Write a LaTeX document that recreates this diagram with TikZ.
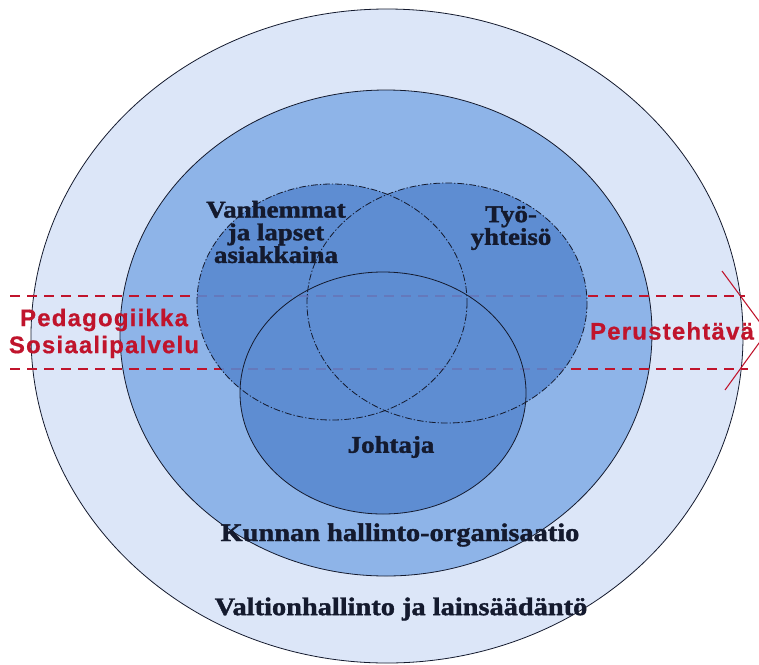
\documentclass[tikz,border=0pt]{standalone}
\usepackage{fontspec}
\setmainfont{Liberation Serif}
\newfontfamily\ringfont{Liberation Serif}[FakeStretch=1.12,BoldFeatures={FakeBold=1.5}]
\newfontfamily\bandfont{Liberation Sans}[LetterSpace=5,BoldFeatures={FakeBold=0.6}]
\usepackage{xcolor}
\usepackage{tikz}
\usetikzlibrary{positioning}
\definecolor{outerblue}{RGB}{220,230,248}
\definecolor{innerblue}{RGB}{142,180,232}
\definecolor{circblue}{RGB}{88,136,208}
\definecolor{bandred}{RGB}{192,20,44}
\definecolor{inkblue}{RGB}{20,26,46}

\begin{document}
\begin{tikzpicture}[x=0.75pt,y=-0.75pt,
  ring/.style={draw=inkblue,line width=0.6pt},
  circline/.style={draw=inkblue,line width=0.6pt,dash pattern=on 5pt off 1.5pt on 1pt off 1.5pt},
  lbl/.style={font=\ringfont\bfseries\fontsize{18}{17}\selectfont,align=center,text=inkblue},
  ringlbl/.style={lbl,font=\ringfont\bfseries\fontsize{19}{19}\selectfont},
  bandlbl/.style={font=\bandfont\bfseries\fontsize{18}{20}\selectfont,text=bandred,inner sep=0pt},
  band/.style={draw=bandred,line width=1.5pt,dash pattern=on 7.5pt off 5.25pt}]
  \useasboundingbox (0,0) rectangle (759,664);
  \fill[white] (0,0) rectangle (759,664);
  % rings
  \coordinate (stateC) at (387,336);
  \coordinate (municC) at (386,333);
  \path[ring,fill=outerblue] (stateC) ellipse [x radius=356,y radius=327];
  \path[ring,fill=innerblue] (municC) ellipse [x radius=266,y radius=243];
  % band with open head
  \coordinate (bandNW) at (10,296);
  \coordinate (bandNE) at (745,296);
  \coordinate (bandSW) at (10,369);
  \coordinate (bandSE) at (748,369);
  \coordinate (headN) at (722,271);
  \coordinate (tip) at (767,332);
  \coordinate (headS) at (725,390);
  \draw[band] (bandNW) -- (bandNE);
  \draw[band] (bandSW) -- (bandSE);
  \draw[bandred,line width=0.8pt] (headN) -- (tip) -- (headS);
  % three circles
  \coordinate (parentsC) at (332,302);
  \coordinate (staffC) at (447,303);
  \coordinate (leaderC) at (383,393);
  \begin{scope}[transparency group,opacity=0.88]
    \fill[circblue] (parentsC) ellipse [x radius=135,y radius=118];
    \fill[circblue] (staffC) ellipse [x radius=140,y radius=120];
    \fill[circblue] (leaderC) ellipse [x radius=143,y radius=121];
  \end{scope}
  \draw[circline] (parentsC) ellipse [x radius=135,y radius=118];
  \draw[circline] (staffC) ellipse [x radius=140,y radius=120];
  \draw[ring] (leaderC) ellipse [x radius=143,y radius=121];
  % labels
  \node[lbl] (parentsLbl) at (276,232) {Vanhemmat\\ja lapset\\asiakkaina};
  \node[lbl] (staffLbl) at (511,228) {Työ-\\yhteisö};
  \node[lbl] (leaderLbl) at (391,447) {Johtaja};
  \node[ringlbl] (municLbl) at (400,535) {Kunnan hallinto-organisaatio};
  \node[ringlbl] (stateLbl) at (401,609) {Valtionhallinto ja lainsäädäntö};
  \node[bandlbl] (pedaLbl) at (104,320) {Pedagogiikka};
  \node[bandlbl,below=3pt of pedaLbl] (sosLbl) {Sosiaalipalvelu};
  \node[bandlbl] (taskLbl) at (672,331) {Perustehtävä};
\end{tikzpicture}
\end{document}
